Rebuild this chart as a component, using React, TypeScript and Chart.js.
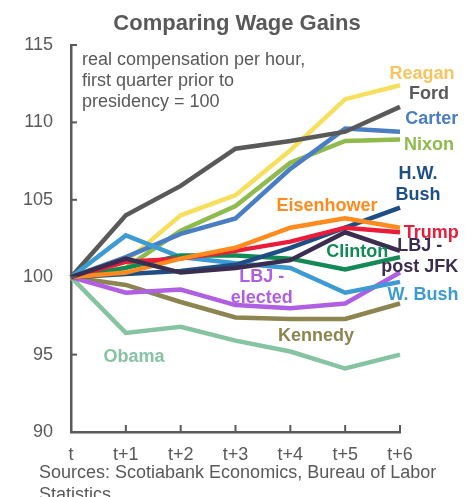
import React, { useEffect, useRef } from "react";
import { Chart, registerables } from "chart.js";
Chart.register(...registerables);

const FONT = "'Liberation Sans', Arial, sans-serif";
const GRAY = "#595959";

const categories = ["t", "t+1", "t+2", "t+3", "t+4", "t+5", "t+6"];
const yMin = 90;
const yMax = 115;
const yStep = 5;

const lbjPost = [100, 101.2, 100.3, 100.6, 101.1, 102.9, 101.7];
const eisenhower = [100, 100.3, 101.2, 101.9, 103.2, 103.8, 103.2];
const trump = [100, 101.0, 101.2, 101.7, 102.3, 103.2, 102.9];
const hwBush = [100, 100.2, 100.4, 100.8, 101.9, 103.2, 104.5];
const clinton = [100, 100.6, 101.4, 101.4, 101.2, 100.5, 101.3];
const wBush = [100, 102.7, 101.3, 100.9, 100.6, 99.0, 99.7];
const lbjElected = [100, 99.0, 99.2, 98.2, 98.0, 98.3, 100.3];
const kennedy = [100, 99.5, 98.4, 97.4, 97.3, 97.3, 98.3];
const obama = [100, 96.4, 96.8, 95.9, 95.2, 94.1, 95.0];
const ford = [100, 104.0, 105.9, 108.3, 108.8, 109.4, 111.0];
const carter = [100, 101.3, 102.8, 103.8, 107.0, 109.6, 109.4];
const nixon = [100, 100.6, 103.0, 104.6, 107.4, 108.8, 108.9];
const reagan = [100, 101.0, 104.0, 105.3, 108.2, 111.5, 112.4];

const seriesNames = [
  "LBJ - post JFK", "Eisenhower", "Trump", "H.W. Bush", "Clinton", "W. Bush",
  "LBJ - elected", "Kennedy", "Obama", "Ford", "Carter", "Nixon", "Reagan",
];
const seriesData = [
  lbjPost, eisenhower, trump, hwBush, clinton, wBush,
  lbjElected, kennedy, obama, ford, carter, nixon, reagan,
];
const seriesColors = [
  "#3b2d4f", "#ff8a1e", "#ea1c3a", "#1f4e85", "#118a55", "#3c9bd2",
  "#b05fe3", "#8c8550", "#86c3a1", "#595959", "#4a7ec4", "#8fba4c", "#f7df5e",
];

const title = "Comparing Wage Gains";
const noteLines = ["real compensation per hour,", "first quarter prior to", "presidency = 100"];
const sourceLines = ["Sources: Scotiabank Economics, Bureau of Labor", "Statistics"];

// series labels: text lines, colour, anchor (centre of the block) in data coordinates
const seriesLabels = [
  { lines: ["Reagan"], color: "#f6c560", xi: 6.40, v: 113.15 },
  { lines: ["Ford"], color: "#595959", xi: 6.53, v: 111.85 },
  { lines: ["Carter"], color: "#4a7ec4", xi: 6.58, v: 110.2 },
  { lines: ["Nixon"], color: "#8fba4c", xi: 6.53, v: 108.56 },
  { lines: ["H.W.", "Bush"], color: "#1f4e85", xi: 6.33, v: 105.98 },
  { lines: ["Eisenhower"], color: "#ff8a1e", xi: 4.67, v: 104.62 },
  { lines: ["Trump"], color: "#ea1c3a", xi: 6.57, v: 102.85 },
  { lines: ["Clinton"], color: "#118a55", xi: 5.22, v: 101.6 },
  { lines: ["LBJ -", "post JFK"], color: "#3b2d4f", xi: 6.36, v: 101.35 },
  { lines: ["LBJ -", "elected"], color: "#b05fe3", xi: 3.48, v: 99.35 },
  { lines: ["W. Bush"], color: "#3c9bd2", xi: 6.42, v: 98.84 },
  { lines: ["Kennedy"], color: "#8c8550", xi: 4.47, v: 96.19 },
  { lines: ["Obama"], color: "#86c3a1", xi: 1.15, v: 94.83 },
];

const decorPlugin = {
  id: "decor",
  afterDraw(chart: any) {
    const { ctx, scales, chartArea } = chart;
    const x = scales.x;
    const y = scales.y;
    ctx.save();
    // inward ticks
    ctx.strokeStyle = GRAY;
    ctx.lineWidth = 2;
    y.ticks.forEach((_t: any, i: number) => {
      const py = y.getPixelForTick(i);
      ctx.beginPath();
      ctx.moveTo(chartArea.left, py);
      ctx.lineTo(chartArea.left + 6, py);
      ctx.stroke();
    });
    x.ticks.forEach((_t: any, i: number) => {
      const px = x.getPixelForTick(i);
      ctx.beginPath();
      ctx.moveTo(px, chartArea.bottom);
      ctx.lineTo(px, chartArea.bottom - 7);
      ctx.stroke();
    });
    // title
    ctx.fillStyle = GRAY;
    ctx.font = `bold 22px ${FONT}`;
    ctx.textAlign = "center";
    ctx.textBaseline = "alphabetic";
    ctx.fillText(title, 237, 30);
    // note
    ctx.font = `18px ${FONT}`;
    ctx.textAlign = "left";
    noteLines.forEach((l, i) => ctx.fillText(l, chartArea.left + 11, 64.5 + i * 21));
    // sources
    sourceLines.forEach((l, i) => ctx.fillText(l, 39, 478 + i * 22));
    // series labels
    ctx.font = `bold 18px ${FONT}`;
    ctx.textAlign = "center";
    ctx.textBaseline = "middle";
    seriesLabels.forEach((lab) => {
      const px = x.getPixelForValue(lab.xi);
      const py = y.getPixelForValue(lab.v);
      ctx.fillStyle = lab.color;
      const n = lab.lines.length;
      lab.lines.forEach((l, i) => ctx.fillText(l, px, py + (i - (n - 1) / 2) * 21));
    });
    ctx.restore();
  },
};

export default function App() {
  const ref = useRef<HTMLCanvasElement>(null);
  useEffect(() => {
    if (!ref.current) return;
    Chart.defaults.font.family = FONT;
    const chart = new Chart(ref.current, {
      type: "line",
      data: {
        labels: categories,
        datasets: seriesNames.map((name, i) => ({
          label: name,
          data: seriesData[i],
          borderColor: seriesColors[i],
          backgroundColor: seriesColors[i],
          borderWidth: 4.5,
          pointRadius: 0,
          tension: 0,
          fill: false,
        })),
      },
      options: {
        responsive: false,
        animation: false,
        layout: { padding: { top: 45, right: 74, left: 0, bottom: 0 } },
        plugins: { legend: { display: false }, tooltip: { enabled: false }, title: { display: false } },
        scales: {
          x: {
            offset: false,
            grid: { display: false, drawTicks: false },
            border: { display: true, color: GRAY, width: 2.5 },
            ticks: { color: GRAY, font: { size: 18 }, padding: 12, maxRotation: 0, autoSkip: false },
            afterFit: (s: any) => { s.height = 65; },
          },
          y: {
            min: yMin,
            max: yMax,
            grid: { display: false, drawTicks: false },
            border: { display: true, color: GRAY, width: 2.5 },
            ticks: { stepSize: yStep, color: GRAY, font: { size: 18 }, padding: 18 },
            afterFit: (s: any) => { s.width = 71; },
          },
        },
      },
      plugins: [decorPlugin],
    });
    return () => chart.destroy();
  }, []);
  return (
    <div style={{ position: "fixed", left: 0, top: 0, width: 474, height: 497, background: "#fff" }}>
      <canvas ref={ref} width={474} height={497} />
    </div>
  );
}
